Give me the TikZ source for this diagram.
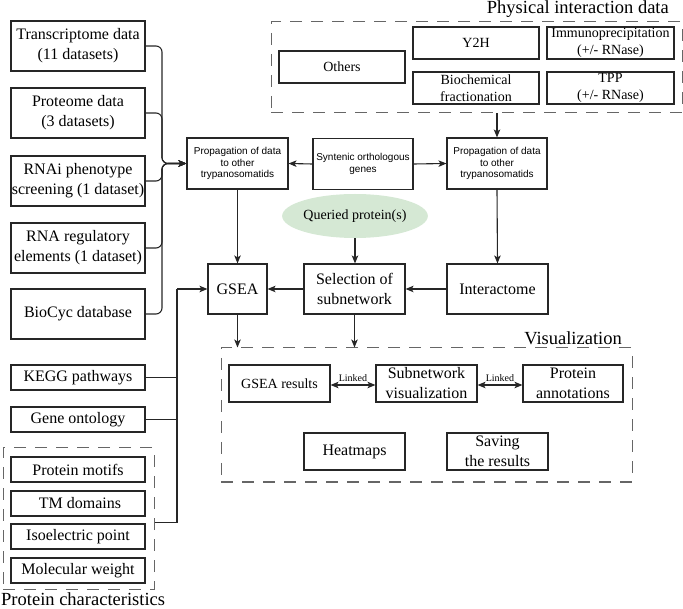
\documentclass[tikz,border=0pt]{standalone}
\usepackage{fontspec}
\setmainfont{Liberation Serif}
\setsansfont{Liberation Sans}
\usetikzlibrary{arrows.meta,shapes.geometric}
\definecolor{qgreen}{RGB}{213,232,212}
\tikzset{
  box/.style={draw=black!85, line width=1.1pt, inner sep=0pt, align=center, font=\fontsize{16}{20}\selectfont},
  smallbox/.style={box, font=\fontsize{14}{16.5}\selectfont},
  sansbox/.style={box, font=\sffamily\fontsize{10}{11.8}\selectfont},
  dbox/.style={draw=black!60, line width=1pt, dash pattern=on 12pt off 9pt, inner sep=0pt},
  conn/.style={line width=1.1pt, draw=black!85},
  arr/.style={conn, -{Stealth[length=8pt,width=6.5pt,inset=2pt]}},
  darr/.style={conn, {Stealth[length=8pt,width=6.5pt,inset=2pt]}-{Stealth[length=8pt,width=6.5pt,inset=2pt]}},
  title/.style={inner sep=0pt, font=\fontsize{18.5}{22}\selectfont},
  linklabel/.style={inner sep=0pt, font=\fontsize{10}{12}\selectfont}
}
\begin{document}
\begin{tikzpicture}[x=1pt,y=-1pt]
\useasboundingbox (0,0) rectangle (683,609);
% left column
\node[box, minimum width=134, minimum height=50] (trans) at (78,46) {Transcriptome data\\(11 datasets)};
\node[box, minimum width=134, minimum height=50] (prot) at (78,113) {Proteome data\\(3 datasets)};
\node[box, minimum width=134, minimum height=50] (rnai) at (78,181) {RNAi phenotype\\screening (1 dataset)};
\node[box, minimum width=134, minimum height=50] (rnareg) at (78,248) {RNA regulatory\\elements (1 dataset)};
\node[box, minimum width=134, minimum height=50] (biocyc) at (78,314) {BioCyc database};
\node[box, minimum width=134, minimum height=25] (kegg) at (78,377.5) {KEGG pathways};
\node[box, minimum width=134, minimum height=25] (gene) at (78,419.5) {Gene ontology};
\node[dbox, minimum width=151, minimum height=141] (pc) at (78.5,518.5) {};
\node[box, minimum width=134, minimum height=25] (pmot) at (78,469.5) {Protein motifs};
\node[box, minimum width=134, minimum height=25] (tm) at (78,503.5) {\hspace{4pt}TM domains};
\node[box, minimum width=134, minimum height=25] (iso) at (78,536.5) {Isoelectric point};
\node[box, minimum width=134, minimum height=25] (mw) at (78,570.5) {Molecular weight};
\node[title, anchor=base west] (pctitle) at (1,605.5) {Protein characteristics};
% physical interaction
\node[dbox, minimum width=411, minimum height=91] (phys) at (476.5,67.5) {};
\node[title, anchor=base east] (phystitle) at (669,14) {Physical interaction data};
\node[smallbox, minimum width=126, minimum height=32] (others) at (342,67) {Others};
\node[smallbox, minimum width=126, minimum height=32] (y2h) at (476,43) {Y2H};
\node[smallbox, minimum width=127, minimum height=32] (immuno) at (610.5,43) {Immunoprecipitation\\(+/- RNase)};
\node[smallbox, minimum width=126, minimum height=32] (bio) at (476,88) {Biochemical\\fractionation};
\node[smallbox, minimum width=127, minimum height=32] (tpp) at (610.5,88) {TPP\\(+/- RNase)};
% middle row
\node[sansbox, minimum width=101, minimum height=51] (propL) at (237.5,163.5) {Propagation of data\\to other\\trypanosomatids};
\node[sansbox, minimum width=100, minimum height=51] (synt) at (363,164) {Syntenic orthologous\\genes};
\node[sansbox, minimum width=100, minimum height=51] (propR) at (497,163.5) {Propagation of data\\to other\\trypanosomatids};
\node[ellipse, fill=qgreen, minimum width=108, minimum height=44, inner sep=0pt, font=\fontsize{14}{16}\selectfont] (query) at (355,216) {Queried protein(s)};
\node[box, minimum width=59, minimum height=50] (gsea) at (237.5,289) {GSEA};
\node[box, minimum width=101, minimum height=50] (sel) at (354.5,289) {Selection of\\subnetwork};
\node[box, minimum width=101, minimum height=50] (inter) at (497.5,289) {Interactome};
% visualization
\node[dbox, minimum width=411, minimum height=134] (vis) at (426.5,415) {};
\node[title, anchor=base east] (vistitle) at (622,345) {Visualization};
\node[smallbox, minimum width=101, minimum height=37] (gres) at (279.5,383.5) {GSEA results};
\node[box, minimum width=101, minimum height=37] (subv) at (426.5,383.5) {Subnetwork\\visualization};
\node[box, minimum width=100, minimum height=37] (pann) at (573,383.5) {Protein\\annotations};
\node[box, minimum width=101, minimum height=37] (heat) at (354.5,451.5) {Heatmaps};
\node[box, minimum width=101, minimum height=37] (save) at (497.5,451.5) {Saving\\the results};
% connectors: left bracket
\coordinate (jL) at (162,163.5);
\foreach \b in {trans,prot,rnai,rnareg,biocyc}{
  \draw[arr, rounded corners=6pt] (\b.east) -| (jL) -- (propL.west);
}
% lower-left bracket
\coordinate (jG) at (177,289);
\draw[conn] (kegg.east) -| (jG);
\draw[conn] (gene.east) -- (gene.east -| jG);
\draw[conn] ([yshift=-4]pc.east) -| (jG);
\draw[arr] (jG) -- (gsea.west);
% middle connectors
\draw[arr] (synt.west) -- (propL.east);
\draw[arr] (synt.east) -- (propR.west);
\draw[arr] (propR.north |- phys.south) -- (propR.north);
\draw[arr] (propL.south) -- (gsea.north);
\draw[arr] (query.south) -- (query.south |- sel.north);
\draw[arr] (propR.south) -- (inter.north);
\draw[arr] (inter.west) -- (sel.east);
\draw[arr] (sel.west) -- (gsea.east);
\draw[arr] (gsea.south) -- (gsea.south |- vis.north);
\draw[arr] (sel.south) -- (sel.south |- vis.north);
% linked
\draw[darr] ([yshift=-1.5]gres.east) -- node[linklabel, above=3pt] (lk1) {Linked} ([yshift=-1.5]subv.west);
\draw[darr] ([yshift=-1.5]subv.east) -- node[linklabel, above=3pt] (lk2) {Linked} ([yshift=-1.5]pann.west);
\end{tikzpicture}
\end{document}
